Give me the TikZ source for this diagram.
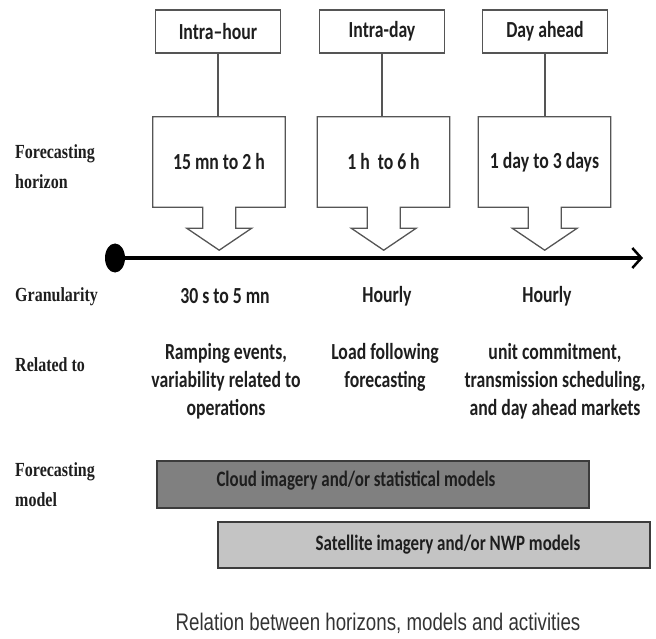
\documentclass[tikz,border=0pt]{standalone}
\usepackage{fontspec}
\usetikzlibrary{arrows.meta,calc,shapes.geometric}
\newfontfamily\condsans[FakeStretch=0.77]{Carlito}
\newfontfamily\condserif[FakeStretch=0.8]{Liberation Serif}
\newfontfamily\capfont[FakeStretch=0.78]{Liberation Sans}
\definecolor{boxgray}{HTML}{555555}
\definecolor{textblack}{HTML}{1E1E1E}
\definecolor{darkfill}{HTML}{808080}
\definecolor{baredge}{HTML}{3C3C3C}
\definecolor{lightfill}{HTML}{C4C4C4}
\definecolor{captiongray}{HTML}{333333}
\tikzset{
  hdrbox/.style={draw=boxgray, line width=1.3pt, minimum width=125pt, minimum height=43pt,
    inner sep=0pt, text=textblack, font=\condsans\bfseries\fontsize{23}{27}\selectfont},
  hzbox/.style={minimum width=132pt, minimum height=90pt, inner sep=0pt, text=textblack,
    font=\condsans\bfseries\fontsize{23}{27}\selectfont},
  boxline/.style={draw=boxgray, line width=1.3pt, line join=miter},
  connector/.style={draw=boxgray, line width=1.2pt},
  rowlabel/.style={anchor=west, inner sep=0pt, align=left, text=textblack,
    font=\condserif\bfseries\fontsize{20}{30}\selectfont},
  celltext/.style={inner sep=0pt, align=center, text=textblack,
    font=\condsans\bfseries\fontsize{23}{28}\selectfont},
  bartext/.style={inner sep=0pt, text=textblack, font=\condsans\bfseries\fontsize{22}{27}\selectfont},
  darkbar/.style={draw=baredge, line width=2pt, fill=darkfill, minimum width=432pt,
    minimum height=47pt, inner sep=0pt},
  lightbar/.style={draw=baredge, line width=2pt, fill=lightfill, minimum width=432pt,
    minimum height=46pt, inner sep=0pt},
  startdot/.style={ellipse, fill=black, minimum width=20pt, minimum height=29pt, inner sep=0pt},
  timeline/.style={line width=3pt, -{Straight Barb[length=9pt,width=20pt,line width=2.5pt]}},
  captiontext/.style={inner sep=0pt, text=captiongray, font=\capfont\fontsize{24}{28}\selectfont}
}
\newcommand\horizonbox[3]{%
  \node[hzbox] (#1) at (#2,-162) {#3};
  \draw[boxline] (#1.south west) -- (#1.north west) -- (#1.north east) -- (#1.south east)
    -- ++(-49.5pt,0pt) -- ++(0pt,-21pt) -- ++(16pt,0pt) -- ++(-32.5pt,-22pt)
    -- ++(-32.5pt,22pt) -- ++(16pt,0pt) -- ++(0pt,21pt) -- cycle;
}
\begin{document}
\begin{tikzpicture}[x=1pt,y=1pt]
\useasboundingbox (0,0) rectangle (656,-639);

% header boxes
\node[hdrbox] (h1) at (218,-31.5) {Intra–hour};
\node[hdrbox] (h2) at (382,-31.5) {Intra-day};
\node[hdrbox] (h3) at (545,-31.5) {Day ahead};

% horizon callout boxes
\horizonbox{b1}{219}{15 mn to 2 h}
\horizonbox{b2}{383.5}{1 h\ \ to 6 h}
\horizonbox{b3}{544.5}{1 day to 3 days}

\draw[connector] (h1.south) -- (h1.south |- b1.north);
\draw[connector] (h2.south) -- (h2.south |- b2.north);
\draw[connector] (h3.south) -- (h3.south |- b3.north);

% timeline
\node[startdot] (start) at (115,-258) {};
\coordinate (end) at (643,-258);
\draw[timeline] (start) -- (end);

% row labels
\node[rowlabel] (lhor) at (15,-167) {Forecasting\\horizon};
\node[rowlabel] (lgran) at (15,-297) {Granularity};
\node[rowlabel] (lrel) at (15,-365) {Related to};
\node[rowlabel] (lmod) at (15,-485) {Forecasting\\model};

% granularity
\node[celltext] (g1) at (225,-296) {30 s to 5 mn};
\node[celltext] (g2) at (387,-296) {Hourly};
\node[celltext] (g3) at (547,-296) {Hourly};

% related to
\node[celltext] (r1) at (226,-381) {Ramping events,\\variability related to\\operations};
\node[celltext] (r2) at (385,-367) {Load following\\forecasting};
\node[celltext] (r3) at (555,-381) {unit commitment,\\transmission scheduling,\\and day ahead markets};

% forecasting models
\node[darkbar] (m1) at (373,-484.5) {};
\node[bartext] (m1t) at (356,-481) {Cloud imagery and/or statistical models};
\node[lightbar] (m2) at (434,-545) {};
\node[bartext] (m2t) at (448,-545) {Satellite imagery and/or NWP models};

% caption
\node[captiontext] (cap) at (378,-623) {Relation between horizons, models and activities};
\end{tikzpicture}
\end{document}
